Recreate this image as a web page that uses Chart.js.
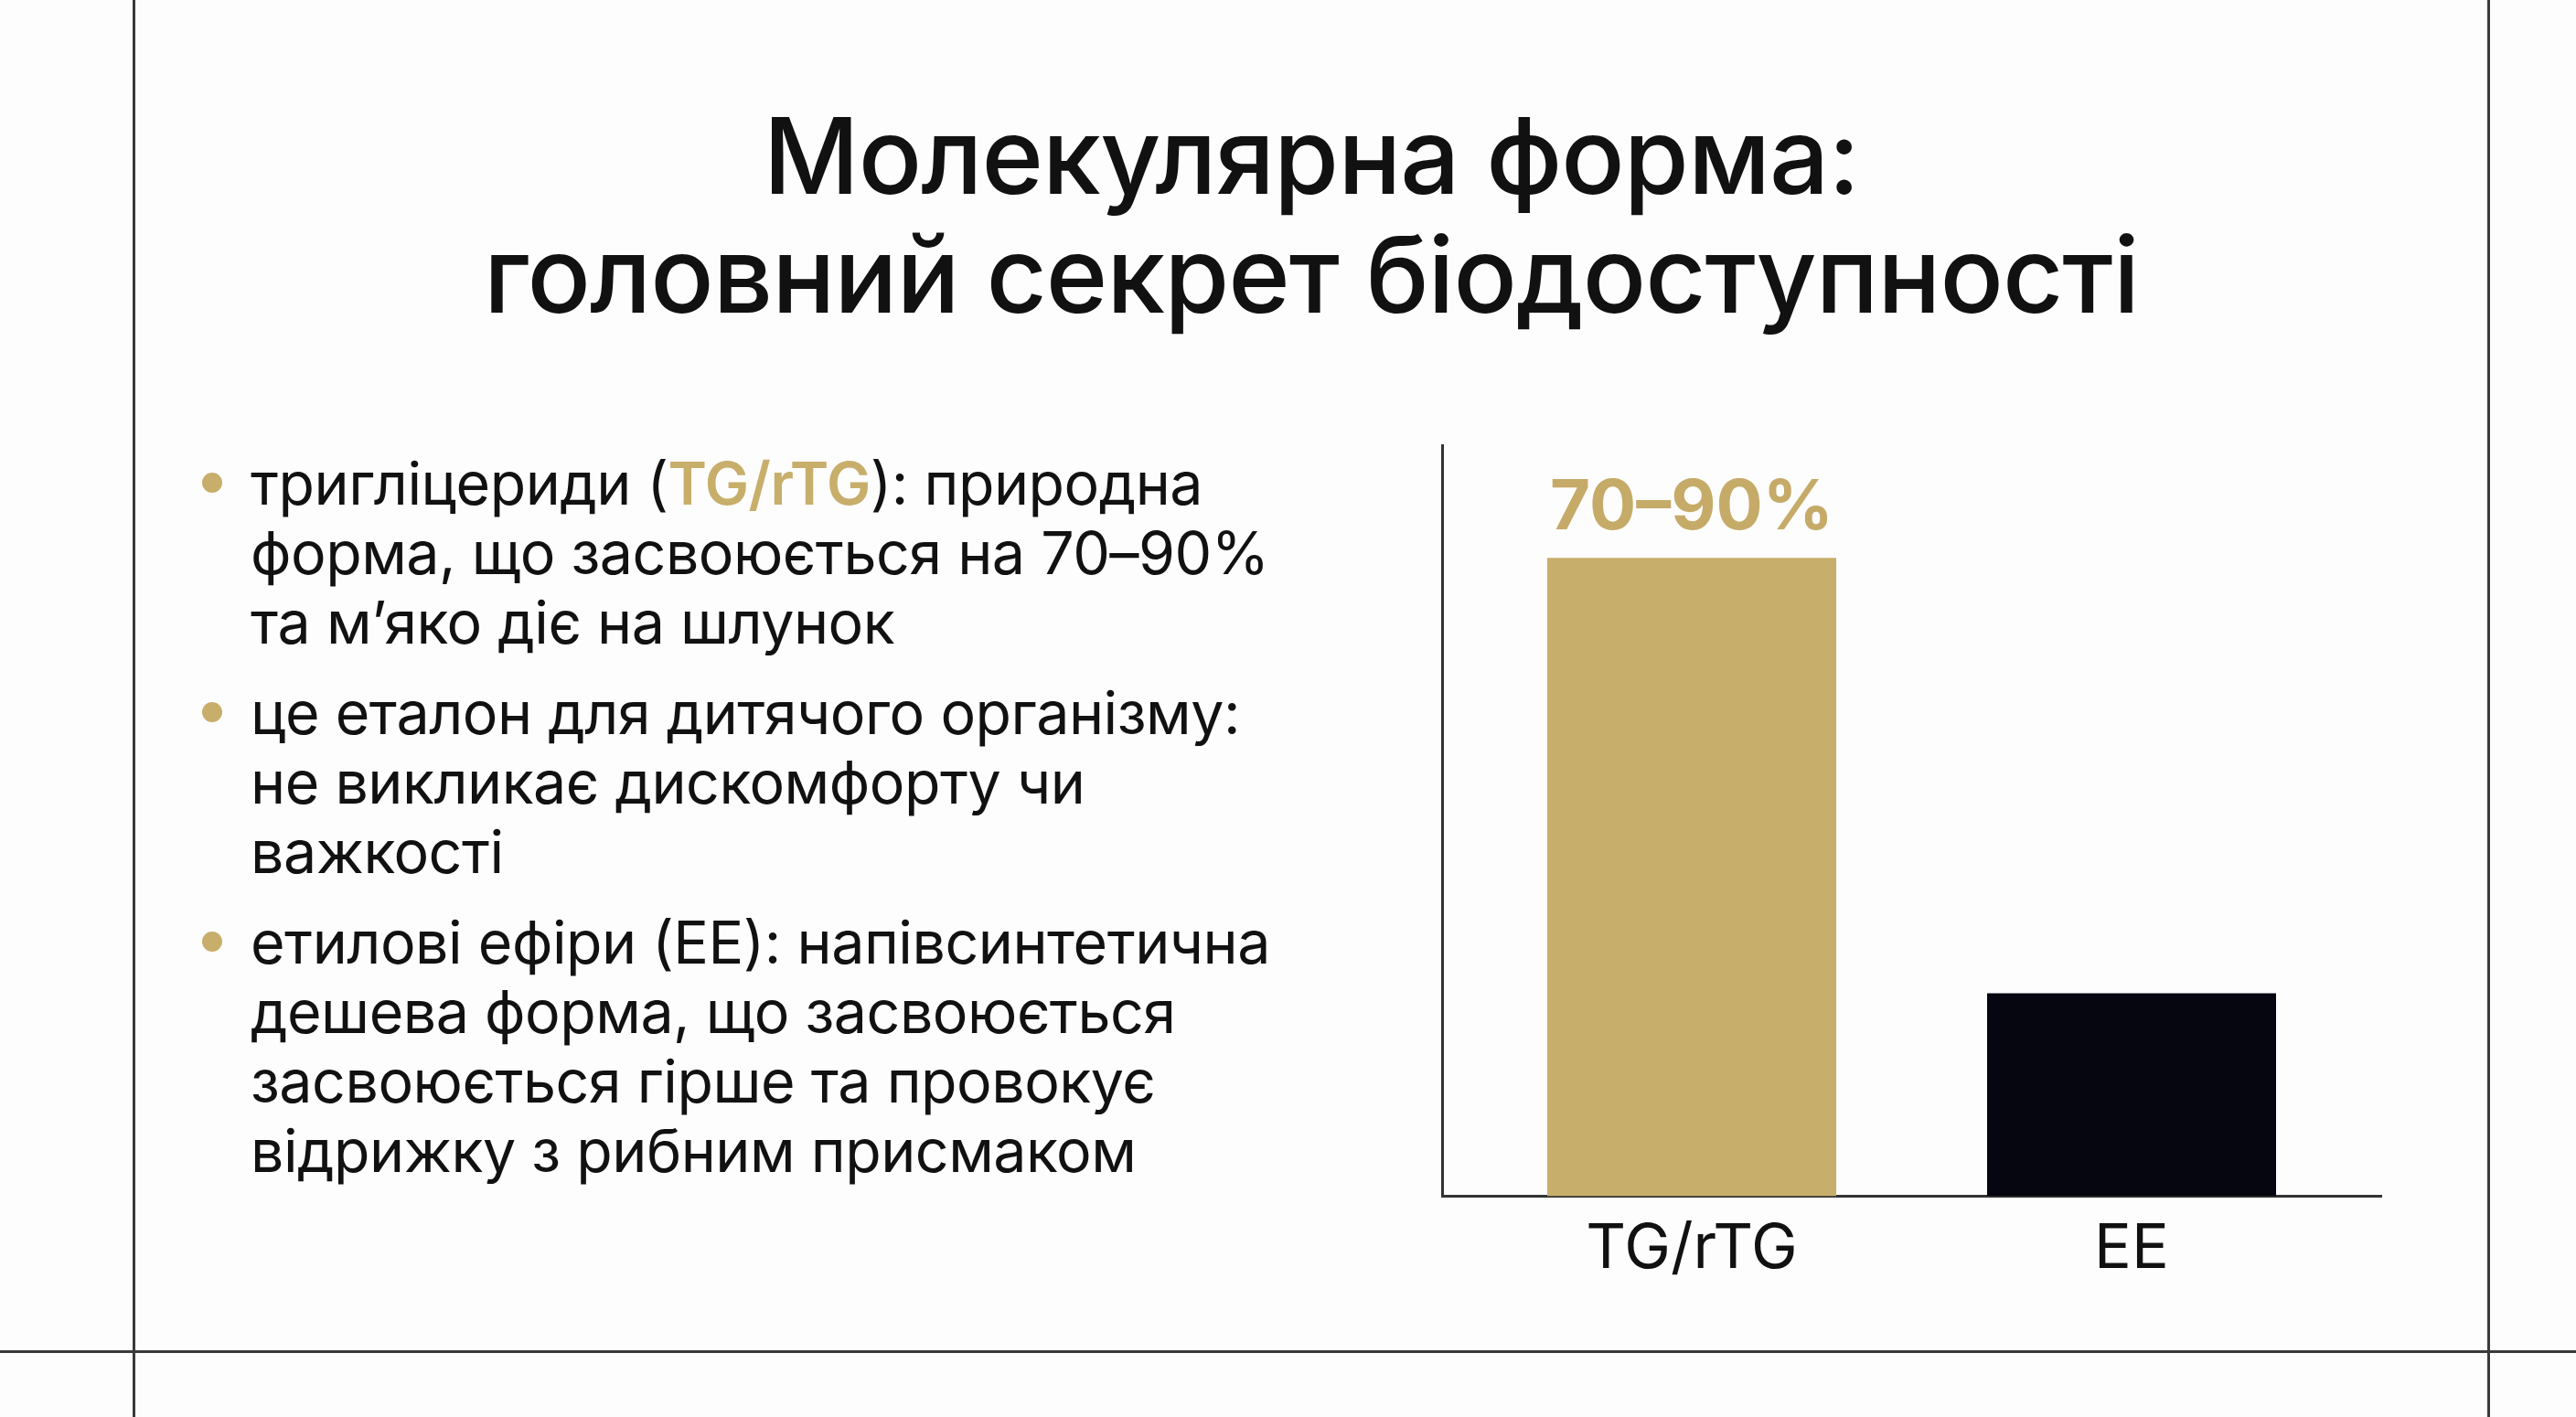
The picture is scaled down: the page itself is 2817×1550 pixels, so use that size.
<!DOCTYPE html>
<html lang="uk">
<head>
<meta charset="utf-8">
<title>Молекулярна форма</title>
<script src="https://cdn.jsdelivr.net/npm/chart.js@4.4.1/dist/chart.umd.min.js"></script>
<style>
  html, body { margin: 0; padding: 0; }
  body {
    width: 2817px; height: 1550px; overflow: hidden; position: relative;
    background: #fdfdfd; font-family: Inter, "Noto Sans", sans-serif; color: #111;
  }
  .vline { position: absolute; top: 0; width: 3px; height: 1550px; background: #3a3a3a; }
  .hline { position: absolute; left: 0; top: 1477px; width: 2817px; height: 3px; background: #3a3a3a; }
  #title {
    position: absolute; left: 146px; width: 2576px; top: 106px;
    text-align: center; font-size: 115px; line-height: 130px; font-weight: 500;
    letter-spacing: -1px; margin: 0;
  }
  #bullets {
    position: absolute; left: 274px; top: 491px; margin: 0; padding: 0; list-style: none;
    font-size: 64.5px; line-height: 76px; font-weight: 400; white-space: nowrap; letter-spacing: -0.5px;
  }
  #bullets li { position: relative; margin: 0 0 23px 0; }
  #bullets li::before {
    content: ""; position: absolute; left: -53px; top: 26px;
    width: 22px; height: 22px; border-radius: 50%; background: #c8ae6b;
  }
  .gold { color: #c8ae6b; font-weight: 600; }
  #chart-box { position: absolute; left: 1500px; top: 420px; width: 1200px; height: 1080px; }
</style>
</head>
<body>
<div class="vline" style="left:145px"></div>
<div class="vline" style="left:2720px"></div>
<div class="hline"></div>

<h1 id="title">Молекулярна форма:<br>головний секрет біодоступності</h1>

<ul id="bullets">
  <li>тригліцериди (<span class="gold">TG/rTG</span>): природна<br>форма, що засвоюється на 70–90%<br>та м’яко діє на шлунок</li>
  <li>це еталон для дитячого організму:<br>не викликає дискомфорту чи<br>важкості</li>
  <li>етилові ефіри (ЕЕ): напівсинтетична<br>дешева форма, що засвоюється<br>засвоюється гірше та провокує<br>відрижку з рибним присмаком</li>
</ul>

<div id="chart-box"><canvas id="chart"></canvas></div>

<script>
// values (no y ticks shown, scale 0..100)
const categories = ['TG/rTG', 'EE'];
const absorption = [85, 27];
const valueLabels = ['70–90%', ''];
const barColors = ['#c8ae6b', '#05060f'];

const GOLD = '#c6aa68';
const AXIS = '#333333';

/*
** draws the text label above each bar
*/
const barLabels = {
  id: 'barLabels',
  afterDatasetsDraw(chart) {
    const ctx = chart.ctx;
    const meta = chart.getDatasetMeta(0);
    ctx.save();
    ctx.font = '700 76px Inter, sans-serif';
    ctx.fillStyle = GOLD;
    ctx.textAlign = 'center';
    ctx.textBaseline = 'alphabetic';
    meta.data.forEach((bar, i) => {
      if (valueLabels[i]) ctx.fillText(valueLabels[i], bar.x, bar.y - 31);
    });
    ctx.restore();
  }
};

const points = absorption.map((v, i) => ({x: i, y: v}));

new Chart(document.getElementById('chart'), {
  type: 'bar',
  data: {
    datasets: [{
      data: points,
      backgroundColor: barColors,
      borderWidth: 0,
      barPercentage: 0.657,
      categoryPercentage: 1
    }]
  },
  options: {
    responsive: true,
    maintainAspectRatio: false,
    animation: false,
    layout: { padding: { left: 77, top: 67, right: 96, bottom: 76 } },
    plugins: { legend: { display: false }, tooltip: { enabled: false } },
    scales: {
      x: {
        type: 'linear',
        offset: false,
        min: -0.5676,
        max: 1.5676,
        afterBuildTicks: (scale) => { scale.ticks = categories.map((c, i) => ({value: i})); },
        grid: { display: false, drawTicks: false, tickLength: 0 },
        border: { display: true, color: AXIS, width: 3 },
        ticks: {
          padding: 17,
          color: '#111',
          font: { family: 'Inter', size: 68, weight: '400' },
          callback: (v) => categories[v]
        }
      },
      y: {
        min: 0,
        max: 100,
        grid: { display: false, drawTicks: false, tickLength: 0 },
        border: { display: true, color: AXIS, width: 3 },
        ticks: { display: false }
      }
    }
  },
  plugins: [barLabels]
});
</script>
</body>
</html>
